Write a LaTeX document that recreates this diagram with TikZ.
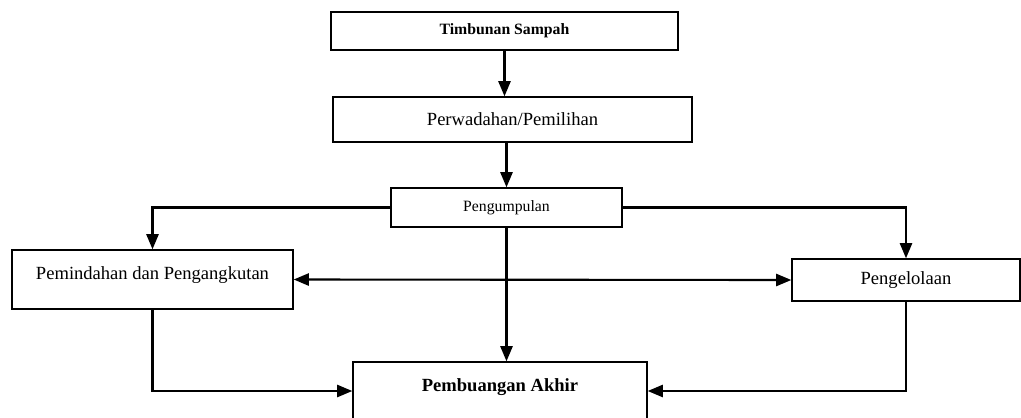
\documentclass[tikz,border=0pt]{standalone}
\usepackage{fontspec}
\setmainfont{Liberation Serif}
\usetikzlibrary{arrows}

\begin{document}
\begin{tikzpicture}[x=0.025cm,y=-0.025cm]

\tikzset{flowbox/.style={
    draw, line width=1.2pt, inner sep=0pt, minimum width=#1,
    align=center, font=\fontsize{13.2}{16}\selectfont
  }, flowbox/.default=100,
  smalltext/.style={font=\fontsize{11.2}{14}\selectfont},
  lowtext/.style={text height=9pt, text depth=9pt},
  flow/.style={line width=1.5pt, -triangle 45},
  flowboth/.style={line width=1.5pt, triangle 45-triangle 45}
}
\useasboundingbox (0,0) rectangle (1021,417);

\node[flowbox=347*0.025cm, minimum height=38*0.025cm, smalltext] (timbunan) at (504.5,31) {\textbf{Timbunan Sampah}};
\node[flowbox=359*0.025cm, minimum height=45*0.025cm] (perwadahan) at (512.5,119.5) {Perwadahan/Pemilihan};
\node[flowbox=231*0.025cm, minimum height=39*0.025cm, smalltext] (pengumpulan) at (506.5,207.5) {Pengumpulan};
\node[flowbox=281*0.025cm, minimum height=59*0.025cm, lowtext] (pemindahan) at (152.5,279.5) {Pemindahan dan Pengangkutan};
\node[flowbox=228*0.025cm, minimum height=42*0.025cm] (pengelolaan) at (906,280) {Pengelolaan};
\node[flowbox=294*0.025cm, minimum height=58*0.025cm, lowtext] (pembuangan) at (500,391) {\textbf{Pembuangan Akhir}};

\draw[flow] (timbunan.south) -- (timbunan.south |- perwadahan.north);
\draw[flow] (perwadahan.south -| pengumpulan.north) -- (pengumpulan.north);
\draw[flow] (pengumpulan.west) -| (pemindahan.north);
\draw[flow] (pengumpulan.east) -| (pengelolaan.north);
\draw[flowboth] (pemindahan.east) -- (pengelolaan.west);
\draw[flow] (pengumpulan.south) -- (pengumpulan.south |- pembuangan.north);
\draw[flow] (pemindahan.south) |- (pembuangan.west);
\draw[flow] (pengelolaan.south) |- (pembuangan.east);
\end{tikzpicture}
\end{document}
